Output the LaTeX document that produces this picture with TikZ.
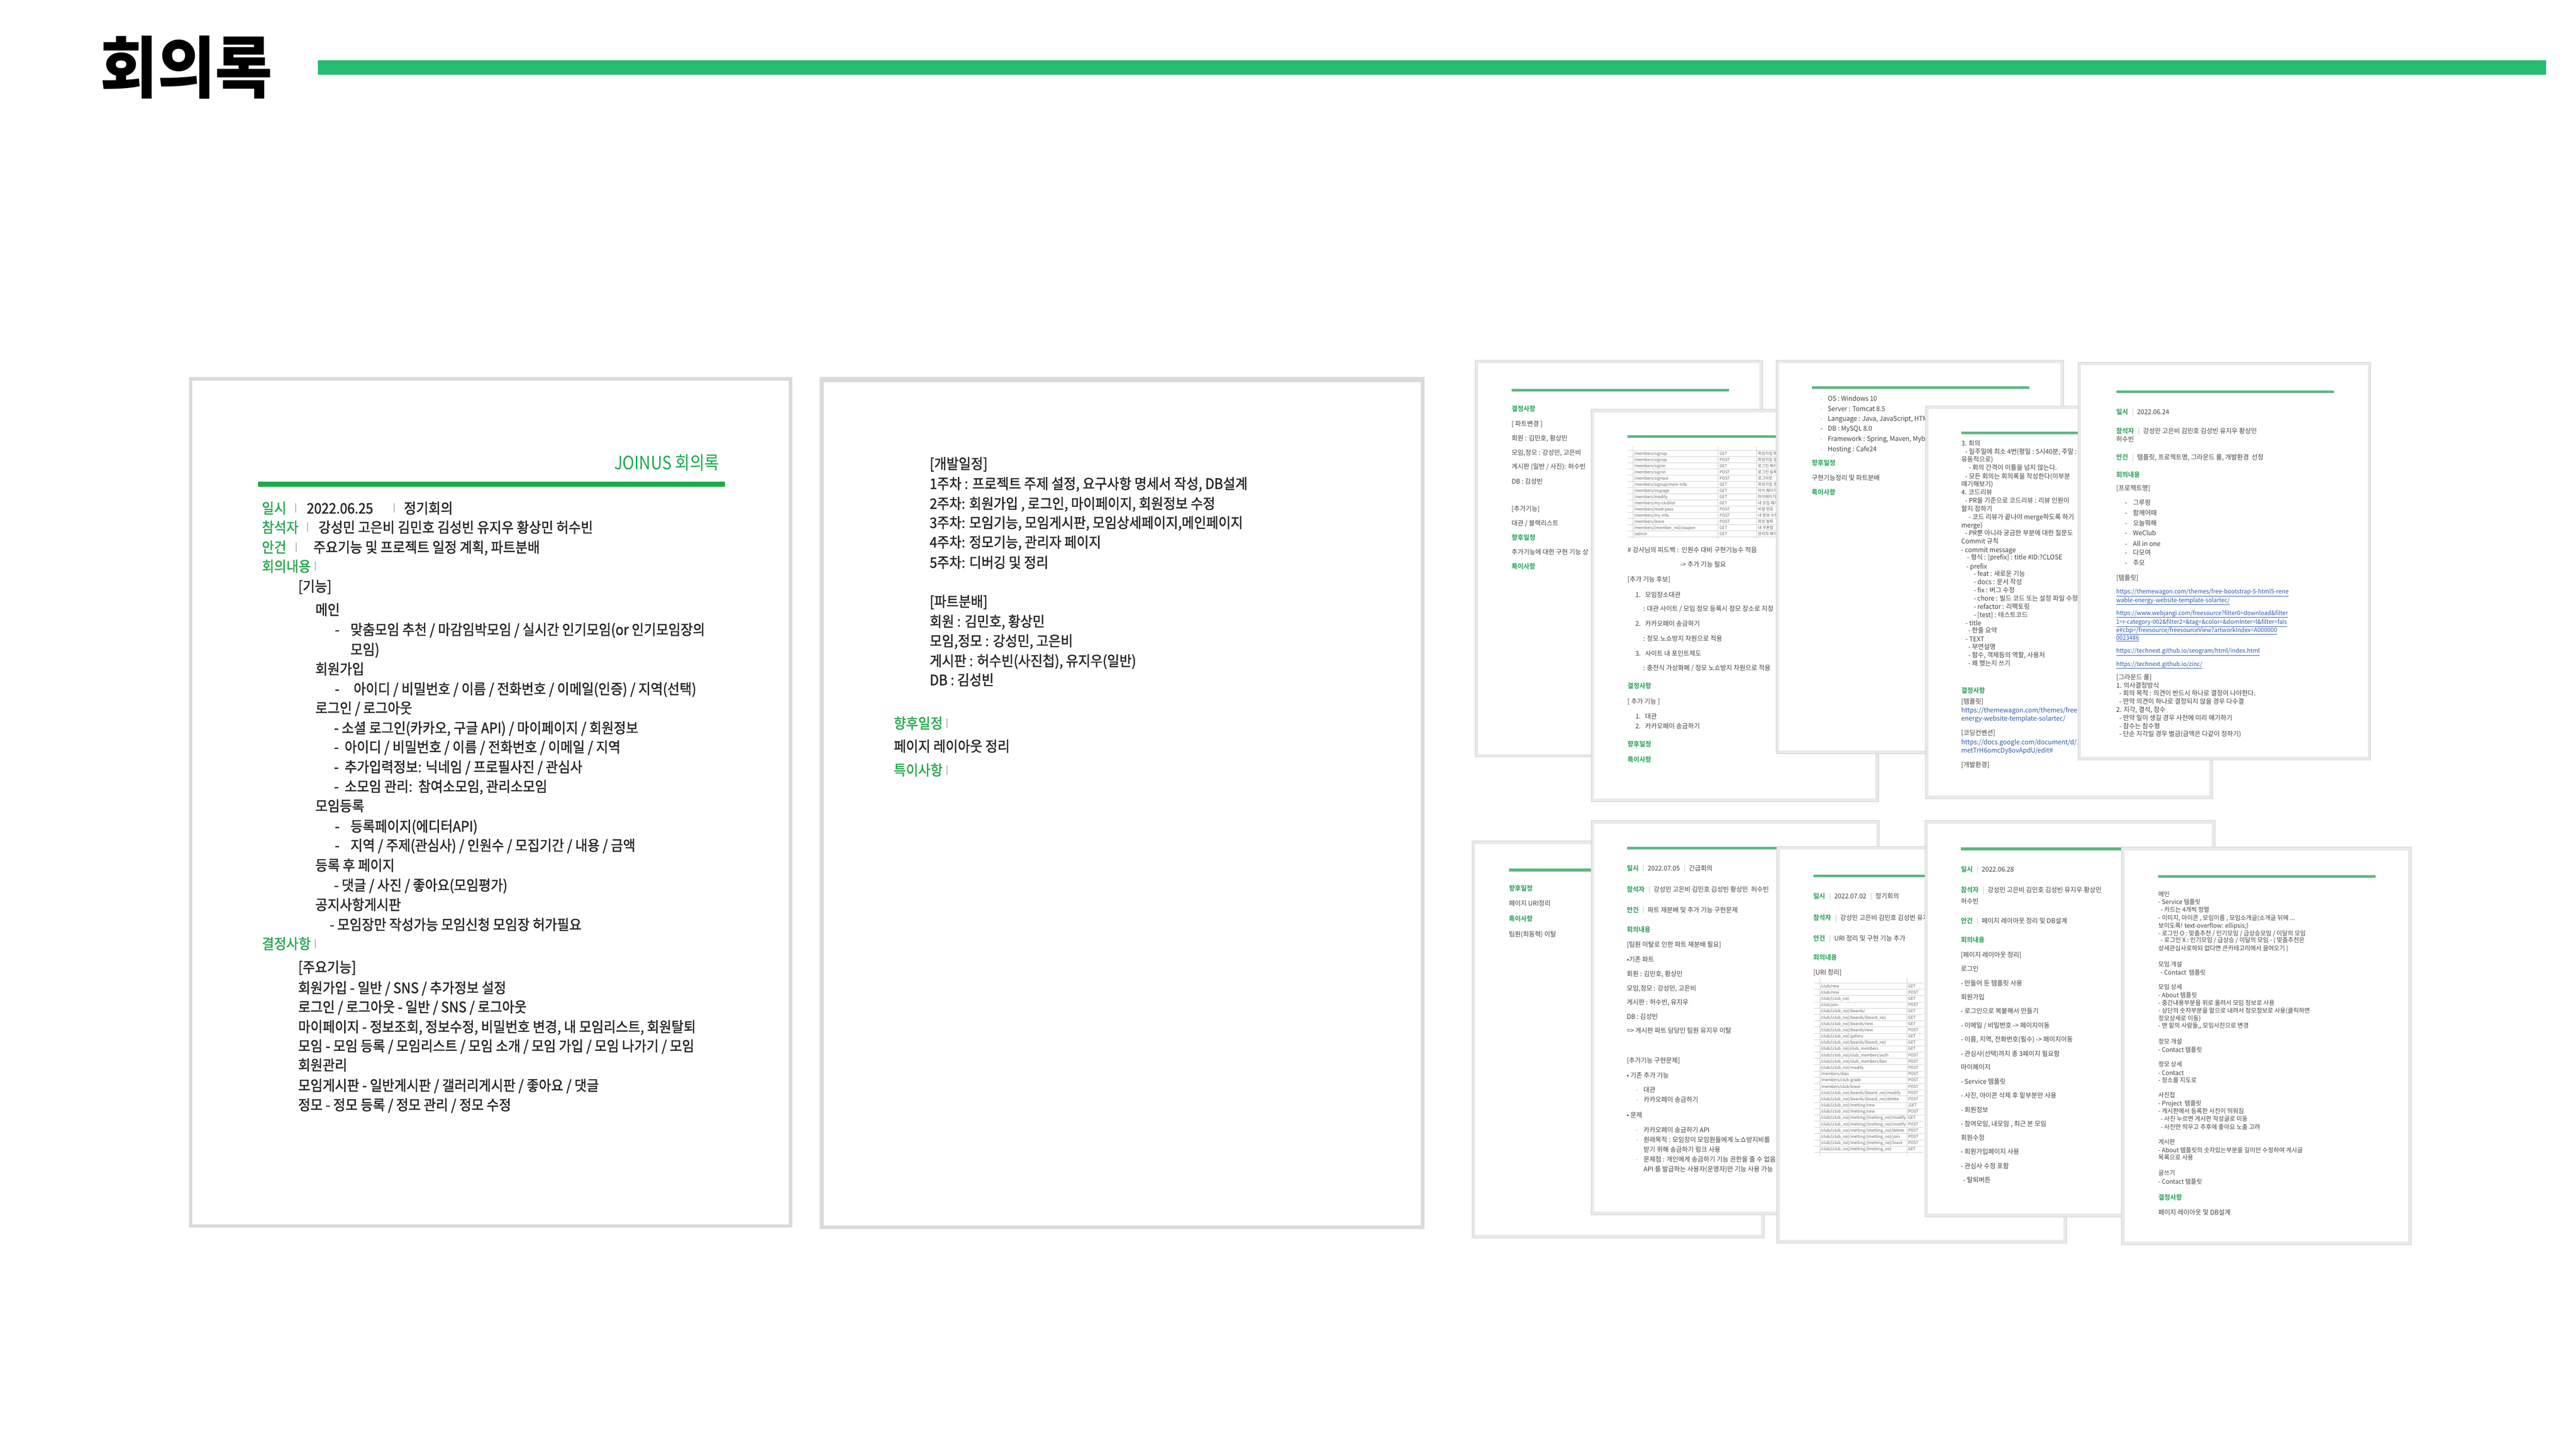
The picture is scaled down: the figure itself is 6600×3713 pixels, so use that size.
\documentclass[tikz,border=0pt]{standalone}
\usepackage{fontspec}
\setmainfont{Noto Sans CJK KR}
\newfontfamily\krc[FakeStretch=0.87]{Noto Sans CJK KR}
\newfontfamily\krh[FakeStretch=0.93]{Noto Sans CJK KR}
\newfontfamily\krm[FakeStretch=0.92,FakeBold=1.5]{Noto Sans CJK KR}
\newfontfamily\krt[FakeStretch=0.97]{Noto Sans CJK KR}
\definecolor{hdrgreen}{RGB}{37,189,115}
\definecolor{pgreen}{RGB}{27,171,74}
\definecolor{lblgreen}{RGB}{36,168,76}
\definecolor{tgreen}{RGB}{62,171,104}
\definecolor{tbar}{RGB}{92,183,128}
\definecolor{bodyc}{RGB}{38,38,38}
\definecolor{thc}{RGB}{66,66,66}
\definecolor{sepc}{RGB}{185,185,185}
\definecolor{bandc}{RGB}{218,218,218}
\definecolor{thband}{RGB}{233,233,233}
\definecolor{linkc}{RGB}{46,92,170}
\definecolor{tabc}{RGB}{100,100,100}
\definecolor{gridc}{RGB}{210,210,210}
\newcounter{tlc}
\newcommand\tl[3]{\stepcounter{tlc}\node[tx] (t\arabic{tlc}) at (#1,#2) {#3};}
\newcommand\grn[1]{\textcolor{tgreen}{\bfseries #1}}
\newcommand\SB{\hspace{0.6em}\textcolor{sepc}{|}\hspace{0.5em}}
\newcommand\lnk[1]{\textcolor{linkc}{\underline{#1}}}
\newcommand\vsep[2]{\draw[sepc,line width=2.5pt] (#1,{#2-12}) -- (#1,{#2+12});}
\newcommand\thumbpage[4]{\fill[thband] (#1,#2) rectangle (#3,#4);
  \draw[gridc,line width=0.8pt] (#1,#2) rectangle (#3,#4);
  \fill[white] ({#1+8},{#2+8}) rectangle ({#3-8},{#4-8});
  \clip ({#1+8},{#2+8}) rectangle ({#3-8},{#4-8});}
\newcommand\brow[4]{\tl{4186}{1162+#1*15.85}{#2}\tl{4406}{1162+#1*15.85}{#3}\tl{4504}{1162+#1*15.85}{#4}}
\newcommand\hrow[3]{\tl{4664}{2527+#1*16.08}{#2}\tl{4889}{2527+#1*16.08}{#3}}
\begin{document}
\begin{tikzpicture}[x=1pt,y=-1pt,
  tx/.style={anchor=base west,inner sep=0pt,outer sep=0pt},
  thumbtext/.style={tx/.style={anchor=base west,inner sep=0pt,outer sep=0pt,font={\krt\fontsize{17}{20}\selectfont},text=thc,yshift=-6.5pt}},
  tabtext/.style={tx/.style={anchor=base west,inner sep=0pt,outer sep=0pt,font={\krt\fontsize{10.5}{12}\selectfont},text=tabc,yshift=-3.6pt}}]
\useasboundingbox (0,0) rectangle (6600,3713);
\fill[white] (0,0) rectangle (6600,3713);
% header
\node[anchor=base west,inner sep=0pt,font={\krh\bfseries\fontsize{172}{180}\selectfont},yshift=-65pt] (title) at (257,172) {회의록};
\fill[hdrgreen] (814,155) rectangle (6524,192);

% ---------------- page 1
\fill[bandc] (484,966) rectangle (2030,3146);
\fill[white] (493,975) rectangle (2021,3137);
\begin{scope}[tx/.style={anchor=base west,inner sep=0pt,outer sep=0pt,font={\krm\fontsize{37}{44}\selectfont},text=bodyc,yshift=-14pt}]
\node[anchor=base east,inner sep=0pt,font={\krc\fontsize{47}{56}\selectfont},text=pgreen,yshift=-18pt] (joinus) at (1843,1185) {JOINUS 회의록};
\fill[pgreen] (661,1234) rectangle (1857,1248);
\tl{671}{1302}{\textcolor{lblgreen}{일시}}
\vsep{758}{1302}
\tl{786}{1302}{2022.06.25}
\vsep{1010}{1302}
\tl{1035}{1302}{정기회의}
\tl{671}{1351}{\textcolor{lblgreen}{참석자}}
\vsep{788}{1351}
\tl{816}{1351}{강성민 고은비 김민호 김성빈 유지우 황상민 허수빈}
\tl{671}{1402}{\textcolor{lblgreen}{안건}}
\vsep{759}{1402}
\tl{803}{1402}{주요기능 및 프로젝트 일정 계획, 파트분배}
\tl{671}{1451}{\textcolor{lblgreen}{회의내용}}
\vsep{808}{1451}
\tl{764}{1502}{[기능]}
\tl{808}{1562}{메인}
\tl{858}{1613}{-}
\tl{898}{1613}{맞춤모임 추천 / 마감임박모임 / 실시간 인기모임(or 인기모임장의}
\tl{898}{1664}{모임)}
\tl{808}{1714}{회원가입}
\tl{858}{1765}{-}
\tl{906}{1765}{아이디 / 비밀번호 / 이름 / 전화번호 / 이메일(인증) / 지역(선택)}
\tl{808}{1814}{로그인 / 로그아웃}
\tl{856}{1865}{- 소셜 로그인(카카오, 구글 API) / 마이페이지 / 회원정보}
\tl{856}{1914}{-}
\tl{883}{1914}{아이디 / 비밀번호 / 이름 / 전화번호 / 이메일 / 지역}
\tl{856}{1965}{-}
\tl{883}{1965}{추가입력정보: 닉네임 / 프로필사진 / 관심사}
\tl{856}{2015}{-}
\tl{883}{2015}{소모임 관리:\ \ 참여소모임, 관리소모임}
\tl{808}{2065}{모임등록}
\tl{858}{2117}{-}
\tl{898}{2117}{등록페이지(에디터API)}
\tl{858}{2166}{-}
\tl{898}{2166}{지역 / 주제(관심사) / 인원수 / 모집기간 / 내용 / 금액}
\tl{808}{2217}{등록 후 페이지}
\tl{856}{2268}{- 댓글 / 사진 / 좋아요(모임평가)}
\tl{808}{2318}{공지사항게시판}
\tl{845}{2369}{- 모임장만 작성가능 모임신청 모임장 허가필요}
\tl{671}{2418}{\textcolor{lblgreen}{결정사항}}
\vsep{808}{2418}
\tl{764}{2478}{[주요기능]}
\tl{764}{2531}{회원가입 - 일반 / SNS / 추가정보 설정}
\tl{764}{2580}{로그인 / 로그아웃 - 일반 / SNS / 로그아웃}
\tl{764}{2631}{마이페이지 - 정보조회, 정보수정, 비밀번호 변경, 내 모임리스트, 회원탈퇴}
\tl{764}{2680}{모임 - 모임 등록 / 모임리스트 / 모임 소개 / 모임 가입 / 모임 나가기 / 모임}
\tl{764}{2729}{회원관리}
\tl{764}{2781}{모임게시판 - 일반게시판 / 갤러리게시판 / 좋아요 / 댓글}
\tl{764}{2831}{정모 - 정모 등록 / 정모 관리 / 정모 수정}

% ---------------- page 2
\fill[bandc] (2100,966) rectangle (3650,3150);
\fill[white] (2110,979) rectangle (3640,3140);
\tl{2382}{1188}{[개발일정]}
\tl{2382}{1239}{1주차 : 프로젝트 주제 설정, 요구사항 명세서 작성, DB설계}
\tl{2382}{1290}{2주차: 회원가입 , 로그인, 마이페이지, 회원정보 수정}
\tl{2382}{1339}{3주차: 모임기능, 모임게시판, 모임상세페이지,메인페이지}
\tl{2382}{1389}{4주차: 정모기능, 관리자 페이지}
\tl{2382}{1441}{5주차: 디버깅 및 정리}
\tl{2382}{1541}{[파트분배]}
\tl{2382}{1592}{회원 : 김민호, 황상민}
\tl{2382}{1642}{모임,정모 : 강성민, 고은비}
\tl{2382}{1693}{게시판 : 허수빈(사진첩), 유지우(일반)}
\tl{2382}{1742}{DB : 김성빈}
\tl{2290}{1853}{\textcolor{lblgreen}{향후일정}}
\vsep{2426}{1853}
\tl{2290}{1912}{페이지 레이아웃 정리}
\tl{2290}{1973}{\textcolor{lblgreen}{특이사항}}
\vsep{2426}{1973}
\end{scope}

% ---------------- thumbnail A
\begin{scope}[thumbtext]
\thumbpage{3779}{923}{4516}{1940}
\fill[tbar] (3873,996) rectangle (4430,1003);
\tl{3873}{1048}{\grn{결정사항}}
\tl{3873}{1086}{[ 파트변경 ]}
\tl{3873}{1123}{회원 : 김민호, 황상민}
\tl{3873}{1160}{모임,정모 : 강성민, 고은비}
\tl{3873}{1196}{게시판 (일반 / 사진): 허수빈}
\tl{3873}{1233}{DB : 김성빈}
\tl{3873}{1303}{[추가기능]}
\tl{3873}{1340}{대관 / 블랙리스트}
\tl{3873}{1377}{\grn{향후일정}}
\tl{3873}{1415}{추가기능에 대한 구현 기능 상}
\tl{3873}{1452}{\grn{특이사항}}
\end{scope}

% ---------------- thumbnail B
\begin{scope}[thumbtext]
\thumbpage{4076}{1049}{4813}{2054}
\fill[tbar] (4170,1115) rectangle (4813,1122);
\foreach \k in {0,...,14} \draw[gridc,line width=0.8pt] (4170,{1154+\k*15.85}) -- (4813,{1154+\k*15.85});
\draw[gridc,line width=0.8pt] (4183,1145) -- (4183,1380) (4401,1145) -- (4401,1380) (4500,1145) -- (4500,1380);
\begin{scope}[tabtext]
\brow{0}{/members/signup}{GET}{회원가입 페이지}
\brow{1}{/members/signup}{POST}{회원가입 등록}
\brow{2}{/members/signin}{GET}{로그인 페이지}
\brow{3}{/members/signin}{POST}{로그인 등록}
\brow{4}{/members/signout}{POST}{로그아웃}
\brow{5}{/members/signup/more-info}{GET}{회원가입 추가}
\brow{6}{/members/mypage}{GET}{마이 페이지}
\brow{7}{/members/modify}{GET}{마이페이지 수정}
\brow{8}{/members/my-clublist}{GET}{내 모임 페이지}
\brow{9}{/members/reset-pass}{POST}{비밀 번호}
\brow{10}{/members/my-info}{POST}{내 정보 수정}
\brow{11}{/members/leave}{POST}{회원 탈퇴}
\brow{12}{/members/\{member\_no\}/coupon}{GET}{내 쿠폰함}
\brow{13}{/admin}{GET}{관리자 페이지}
\end{scope}
\tl{4170}{1409}{\# 강사님의 피드백 :\ \ 인원수 대비 구현기능수 적음}
\tl{4305}{1446}{-> 추가 기능 필요}
\tl{4170}{1485}{[추가 기능 후보]}
\tl{4190}{1524}{1.\ \ \ 모임장소대관}
\tl{4210}{1560}{: 대관 사이트 / 모임 정모 등록시 정모 장소로 지정}
\tl{4190}{1598}{2.\ \ \ 카카오페이 송금하기}
\tl{4210}{1636}{: 정모 노쇼방지 차원으로 적용}
\tl{4190}{1674}{3.\ \ \ 사이트 내 포인트제도}
\tl{4210}{1711}{: 충전식 가상화폐 / 정모 노쇼방지 차원으로 적용}
\tl{4170}{1758}{\grn{결정사항}}
\tl{4170}{1797}{[ 추가 기능 ]}
\tl{4190}{1835}{1.\ \ \ 대관}
\tl{4190}{1861}{2.\ \ \ 카카오페이 송금하기}
\tl{4170}{1907}{\grn{향후일정}}
\tl{4170}{1947}{\grn{특이사항}}
\end{scope}

% ---------------- thumbnail C
\begin{scope}[thumbtext]
\thumbpage{4550}{923}{5287}{1931}
\fill[tbar] (4642,990) rectangle (5200,997);
\tl{4664}{1021}{\textcolor{sepc}{-}}\tl{4683}{1021}{OS : Windows 10}
\tl{4664}{1047}{\textcolor{sepc}{-}}\tl{4683}{1047}{Server : Tomcat 8.5}
\tl{4664}{1073}{\textcolor{sepc}{-}}\tl{4683}{1073}{Language : Java, JavaScript, HTML}
\tl{4664}{1098}{-}\tl{4683}{1098}{DB : MySQL 8.0}
\tl{4664}{1124}{\textcolor{sepc}{-}}\tl{4683}{1124}{Framework : Spring, Maven, Myba}
\tl{4664}{1150}{\textcolor{sepc}{-}}\tl{4683}{1150}{Hosting : Cafe24}
\tl{4642}{1186}{\grn{향후일정}}
\tl{4642}{1224}{구현기능정리 및 파트분배}
\tl{4642}{1261}{\grn{특이사항}}
\end{scope}

% ---------------- thumbnail D
\begin{scope}[thumbtext]
\thumbpage{4933}{1040}{5668}{2046}
\fill[tbar] (5025,1106) rectangle (5600,1113);
\tl{5025}{1136}{3. 회의}
\tl{5035}{1157}{- 일주일에 최소 4번(평일 : 5시40분, 주말 :}
\tl{5025}{1177}{유동적으로)}
\tl{5044}{1198}{- 회의 간격이 이틀을 넘지 않는다.}
\tl{5035}{1220}{- 모든 회의는 회의록을 작성한다(이부분}
\tl{5025}{1240}{얘기해보기)}
\tl{5025}{1261}{4. 코드리뷰}
\tl{5035}{1283}{- PR을 기준으로 코드리뷰 : 리뷰 인원이}
\tl{5025}{1303}{할지 정하기}
\tl{5044}{1325}{- 코드 리뷰가 끝나야 merge하도록 하기}
\tl{5025}{1346}{merge)}
\tl{5035}{1365}{- PR뿐 아니라 궁금한 부분에 대한 질문도}
\tl{5025}{1387}{Commit 규칙}
\tl{5025}{1409}{- commit message}
\tl{5040}{1428}{- 형식 : [prefix] : title \#ID:?CLOSE}
\tl{5038}{1451}{- prefix}
\tl{5057}{1470}{- feat : 새로운 기능}
\tl{5057}{1491}{- docs : 문서 작성}
\tl{5057}{1512}{- fix : 버그 수정}
\tl{5057}{1533}{- chore : 빌드 코드 또는 설정 파일 수정}
\tl{5057}{1554}{- refactor : 리팩토링}
\tl{5057}{1575}{- [test] : 테스트코드}
\tl{5036}{1596}{- title}
\tl{5043}{1615}{- 한줄 요약}
\tl{5036}{1637}{- TEXT}
\tl{5043}{1657}{- 부연설명}
\tl{5043}{1678}{- 함수, 객체등의 역할, 사용처}
\tl{5043}{1700}{- 왜 했는지 쓰기}
\tl{5025}{1770}{\grn{결정사항}}
\tl{5025}{1797}{[템플릿]}
\tl{5025}{1820}{\textcolor{linkc}{https://themewagon.com/themes/free-bootstr}}
\tl{5025}{1841}{\textcolor{linkc}{energy-website-template-solartec/}}
\tl{5025}{1878}{[코딩컨벤션]}
\tl{5025}{1902}{\textcolor{linkc}{https://docs.google.com/document/d/1Qa8igz}}
\tl{5025}{1923}{\textcolor{linkc}{metTrH6omcDy8ovApdU/edit\#}}
\tl{5025}{1960}{[개발환경]}
\end{scope}

% ---------------- thumbnail E
\begin{scope}[thumbtext]
\thumbpage{5324}{928}{6074}{1947}
\fill[tbar] (5422,1001) rectangle (5979,1007);
\tl{5422}{1056}{\grn{일시}\SB 2022.06.24}
\tl{5422}{1104}{\grn{참석자}\SB 강성민 고은비 김민호 김성빈 유지우 황상민}
\tl{5422}{1126}{허수빈}
\tl{5422}{1172}{\grn{안건}\SB 템플릿, 프로젝트명, 그라운드 룰, 개발환경\ \ 선정}
\tl{5422}{1217}{\grn{회의내용}}
\tl{5422}{1251}{[프로젝트명]}
\tl{5444}{1288}{-}\tl{5465}{1288}{그루핑}
\tl{5444}{1314}{-}\tl{5465}{1314}{함께어때}
\tl{5444}{1340}{-}\tl{5465}{1340}{오늘뭐해}
\tl{5444}{1366}{-}\tl{5465}{1366}{WeClub}
\tl{5444}{1393}{-}\tl{5465}{1393}{All in one}
\tl{5444}{1416}{-}\tl{5465}{1416}{다모여}
\tl{5444}{1442}{-}\tl{5465}{1442}{주모}
\tl{5422}{1480}{[템플릿]}
\begin{scope}[tx/.append style={font={\krt\fontsize{15.5}{18}\selectfont}}]
\tl{5422}{1515}{\lnk{https://themewagon.com/themes/free-bootstrap-5-html5-rene}}
\tl{5422}{1537}{\lnk{wable-energy-website-template-solartec/}}
\tl{5422}{1570}{\lnk{https://www.webjangi.com/freesource?filter0=download\&filter}}
\tl{5422}{1593}{\lnk{1=r-category-002\&filter2=\&tag=\&color=\&domInter=l\&filter=fals}}
\tl{5422}{1614}{\lnk{e\#cbp=/freesource/freesourceView?artworkIndex=A000000}}
\tl{5422}{1634}{\lnk{0023486}}
\tl{5422}{1667}{\lnk{https://technext.github.io/seogram/html/index.html}}
\tl{5422}{1701}{\lnk{https://technext.github.io/zinc/}}
\end{scope}
\tl{5422}{1735}{[그라운드 룰]}
\tl{5422}{1756}{1. 의사결정방식}
\tl{5430}{1776}{- 회의 목적 : 의견이 반드시 하나로 결정이 나야한다.}
\tl{5430}{1797}{- 만약 의견이 하나로 결정되지 않을 경우 다수결}
\tl{5422}{1818}{2. 지각, 결석, 잠수}
\tl{5430}{1839}{- 만약 일이 생길 경우 사전에 미리 얘기하기}
\tl{5430}{1860}{- 잠수는 참수형}
\tl{5430}{1880}{- 단순 지각일 경우 벌금(금액은 다같이 정하기)}
\end{scope}

% ---------------- thumbnail F
\begin{scope}[thumbtext]
\thumbpage{3771}{2155}{4520}{3172}
\fill[tbar] (3866,2226) rectangle (4400,2233);
\tl{3866}{2276}{\grn{향후일정}}
\tl{3866}{2315}{페이지 URI정리}
\tl{3866}{2354}{\grn{특이사항}}
\tl{3866}{2394}{팀원(최동혁) 이탈}
\end{scope}

% ---------------- thumbnail G
\begin{scope}[thumbtext]
\thumbpage{4076}{2102}{4815}{3113}
\fill[tbar] (4168,2170) rectangle (4780,2177);
\tl{4168}{2225}{\grn{일시}\SB 2022.07.05\SB 긴급회의}
\tl{4168}{2279}{\grn{참석자}\SB 강성민 고은비 김민호 김성빈 황상민\ \ 허수빈}
\tl{4168}{2332}{\grn{안건}\SB 파트 재분배 및 추가 기능 구현문제}
\tl{4168}{2382}{\grn{회의내용}}
\tl{4168}{2420}{[팀원 이탈로 인한 파트 재분배 필요]}
\tl{4168}{2458}{•기존 파트}
\tl{4168}{2496}{회원 : 김민호, 황상민}
\tl{4168}{2532}{모임,정모 : 강성민, 고은비}
\tl{4168}{2568}{게시판 : 허수빈, 유지우}
\tl{4168}{2605}{DB : 김성빈}
\tl{4168}{2641}{=> 게시판 파트 담당인 팀원 유지우 이탈}
\tl{4168}{2717}{[추가기능 구현문제]}
\tl{4168}{2755}{• 기존 추가 기능}
\tl{4191}{2793}{\textcolor{sepc}{-}}\tl{4211}{2793}{대관}
\tl{4191}{2817}{\textcolor{sepc}{-}}\tl{4211}{2817}{카카오페이 송금하기}
\tl{4168}{2857}{• 문제}
\tl{4191}{2895}{\textcolor{sepc}{-}}\tl{4211}{2895}{카카오페이 송금하기 API}
\tl{4191}{2920}{\textcolor{sepc}{-}}\tl{4211}{2920}{원래목적 : 모임장이 모임원들에게 노쇼방지비를}
\tl{4211}{2945}{받기 위해 송금하기 링크 사용}
\tl{4191}{2971}{\textcolor{sepc}{-}}\tl{4211}{2971}{문제점 : 개인에게 송금하기 기능 권한을 줄 수 없음}
\tl{4211}{2996}{API 를 발급하는 사용자(운영자)만 기능 사용 가능}
\end{scope}

% ---------------- thumbnail H
\begin{scope}[thumbtext]
\thumbpage{4552}{2169}{5295}{3185}
\fill[tbar] (4646,2241) rectangle (5200,2248);
\tl{4646}{2296}{\grn{일시}\SB 2022.07.02\SB 정기회의}
\tl{4646}{2351}{\grn{참석자}\SB 강성민 고은비 김민호 김성빈 유지우 황상민}
\tl{4646}{2404}{\grn{안건}\SB URI 정리 및 구현 기능 추가}
\tl{4646}{2453}{\grn{회의내용}}
\tl{4646}{2492}{[URI 정리]}
\foreach \k in {0,...,27} \draw[gridc,line width=0.8pt] (4648,{2519+\k*16.08}) -- (4928,{2519+\k*16.08});
\draw[gridc,line width=0.8pt] (4662,2506) -- (4662,2962) (4886,2506) -- (4886,2962);
\begin{scope}[tabtext]
\hrow{0}{/club/new}{GET}
\hrow{1}{/club/new}{POST}
\hrow{2}{/club/\{club\_no\}}{GET}
\hrow{3}{/club/join}{POST}
\hrow{4}{/club/\{club\_no\}/boards/}{GET}
\hrow{5}{/club/\{club\_no\}/boards/\{board\_no\}}{GET}
\hrow{6}{/club/\{club\_no\}/boards/new}{GET}
\hrow{7}{/club/\{club\_no\}/boards/new}{POST}
\hrow{8}{/club/\{club\_no\}/gallery}{GET}
\hrow{9}{/club/\{club\_no\}/boards/\{board\_no\}}{GET}
\hrow{10}{/club/\{club\_no\}/club\_members}{GET}
\hrow{11}{/club/\{club\_no\}/club\_members/auth}{POST}
\hrow{12}{/club/\{club\_no\}/club\_members/ban}{POST}
\hrow{13}{/club/\{club\_no\}/modify}{POST}
\hrow{14}{/members/dips}{POST}
\hrow{15}{/members/club-grade}{POST}
\hrow{16}{/members/club/leave}{POST}
\hrow{17}{/club/\{club\_no\}/boards/\{board\_no\}/modify}{POST}
\hrow{18}{/club/\{club\_no\}/boards/\{board\_no\}/delete}{POST}
\hrow{19}{/club/\{club\_no\}/metting/new}{,GET}
\hrow{20}{/club/\{club\_no\}/metting/new}{POST}
\hrow{21}{/club/\{club\_no\}/metting/\{metting\_no\}/modify}{GET}
\hrow{22}{/club/\{club\_no\}/metting/\{metting\_no\}/modify}{POST}
\hrow{23}{/club/\{club\_no\}/metting/\{metting\_no\}/delete}{POST}
\hrow{24}{/club/\{club\_no\}/metting/\{metting\_no\}/join}{POST}
\hrow{25}{/club/\{club\_no\}/metting/\{metting\_no\}/leave}{POST}
\hrow{26}{/club/\{club\_no\}/metting/\{metting\_no\}}{GET}
\end{scope}
\end{scope}

% ---------------- thumbnail I
\begin{scope}[thumbtext]
\thumbpage{4932}{2102}{5675}{3118}
\fill[tbar] (5024,2172) rectangle (5600,2179);
\tl{5024}{2228}{\grn{일시}\SB 2022.06.28}
\tl{5024}{2281}{\grn{참석자}\SB 강성민 고은비 김민호 김성빈 유지우 황상민}
\tl{5024}{2310}{허수빈}
\tl{5024}{2360}{\grn{안건}\SB 페이지 레이아웃 정리 및 DB설계}
\tl{5024}{2409}{\grn{회의내용}}
\tl{5024}{2447}{[페이지 레이아웃 정리]}
\tl{5024}{2482}{로그인}
\tl{5024}{2519}{- 만들어 둔 템플릿 사용}
\tl{5024}{2555}{회원가입}
\tl{5024}{2591}{- 로그인으로 복붙해서 만들기}
\tl{5024}{2627}{- 이메일 / 비밀번호 -> 페이지이동}
\tl{5024}{2663}{- 이름, 지역, 전화번호(필수) -> 페이지이동}
\tl{5024}{2700}{- 관심사(선택)까지 총 3페이지 필요함}
\tl{5024}{2735}{마이페이지}
\tl{5024}{2772}{- Service 템플릿}
\tl{5024}{2807}{- 사진, 아이콘 삭제 후 밑부분만 사용}
\tl{5024}{2844}{- 회원정보}
\tl{5024}{2880}{- 참여모임, 내모임 , 최근 본 모임}
\tl{5024}{2915}{회원수정}
\tl{5024}{2951}{- 회원가입페이지 사용}
\tl{5024}{2988}{- 관심사 수정 포함}
\tl{5030}{3023}{- 탈퇴버튼}
\end{scope}

% ---------------- thumbnail J
\begin{scope}[thumbtext]
\thumbpage{5435}{2171}{6178}{3189}
\fill[tbar] (5530,2242) rectangle (6087,2249);
\begin{scope}[tx/.append style={font={\krt\fontsize{16}{19}\selectfont}}]
\tl{5530}{2291}{메인}
\tl{5530}{2311}{- Service 템플릿}
\tl{5536}{2330}{- 카드는 4개씩 정렬}
\tl{5530}{2351}{- 이미지, 아이콘 , 모임이름 , 모임소개글(소개글 뒤에 ...}
\tl{5530}{2371}{보이도록! text-overflow: ellipsis;)}
\tl{5530}{2391}{- 로그인 O : 맞춤추천 / 인기모임 / 급상승모임 / 이달의 모임}
\tl{5536}{2409}{- 로그인 X : 인기모임 / 급상승 / 이달의 모임 - ( 맞춤추천은}
\tl{5530}{2430}{상세관심사로하되 없다면 큰카테고리에서 끌어오기 )}
\tl{5530}{2470}{모임 개설}
\tl{5536}{2491}{- Contact\ \ 템플릿}
\tl{5530}{2529}{모임 상세}
\tl{5530}{2549}{- About 템플릿}
\tl{5530}{2569}{- 중간내용부분을 위로 올려서 모임 정보로 사용}
\tl{5530}{2589}{- 상단의 숫자부분을 밑으로 내려서 정모정보로 사용(클릭하면}
\tl{5530}{2609}{정모상세로 이동)}
\tl{5530}{2628}{- 맨 밑의 사람들,, 모임사진으로 변경}
\tl{5530}{2669}{정모 개설}
\tl{5530}{2689}{- Contact 템플릿}
\tl{5530}{2727}{정모 상세}
\tl{5530}{2749}{- Contact}
\tl{5530}{2768}{- 장소를 지도로}
\tl{5530}{2806}{사진첩}
\tl{5530}{2827}{- Project\ \ 템플릿}
\tl{5530}{2847}{- 게시판에서 등록한 사진이 띄워짐}
\tl{5536}{2867}{- 사진 누르면 게시판 작성글로 이동}
\tl{5536}{2887}{- 사진만 띄우고 추후에 좋아요 노출 고려}
\tl{5530}{2926}{게시판}
\tl{5530}{2947}{- About 템플릿의 숫자있는부분을 길이만 수정하여 게시글}
\tl{5530}{2966}{목록으로 사용}
\tl{5530}{3005}{글쓰기}
\tl{5530}{3027}{- Contact 템플릿}
\end{scope}
\tl{5530}{3068}{\grn{결정사항}}
\tl{5530}{3107}{페이지 레이아웃 및 DB설계}
\end{scope}
\end{tikzpicture}
\end{document}
